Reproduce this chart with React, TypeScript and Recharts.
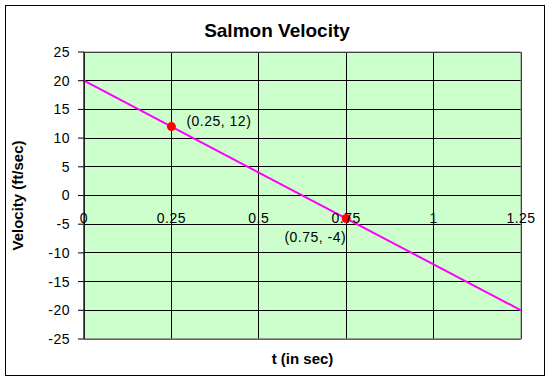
import React from 'react';
import {
  ComposedChart,
  Line,
  Scatter,
  XAxis,
  YAxis,
  CartesianGrid,
  ReferenceArea,
  ReferenceDot,
} from 'recharts';

const xTicks = [0, 0.25, 0.5, 0.75, 1, 1.25];
const yTicks = [-25, -20, -15, -10, -5, 0, 5, 10, 15, 20, 25];

const lineTimes = [0, 1.25];
const lineVelocities = [20, -20];

const pointTimes = [0.25, 0.75];
const pointVelocities = [12, -4];
const pointLabels = ['(0.25, 12)', '(0.75, -4)'];

const FONT = '"Liberation Sans", Arial, sans-serif';

const lineData = lineTimes.map((t, i) => ({ t, v: lineVelocities[i] }));
const pointData = pointTimes.map((t, i) => ({ t, v: pointVelocities[i], label: pointLabels[i], idx: i }));

function PointShape(props: any) {
  const { cx, cy, payload } = props;
  const first = payload.idx === 0;
  return (
    <g>
      <circle cx={cx} cy={cy} r={4.5} fill="#FF0000" />
      <text
        x={first ? cx + 15 : cx}
        y={first ? cy - 1 : cy + 24}
        textAnchor={first ? 'start' : 'end'}
        fontSize={14}
        letterSpacing={0.5}
        fontFamily={FONT}
        fill="#000"
      >
        {payload.label}
      </text>
    </g>
  );
}

// x tick labels sit on the zero line (drawn with ReferenceDot), so the axis itself shows none
const NoTick = () => <g />;

export default function App() {
  return (
    <div
      style={{
        position: 'absolute',
        left: 0,
        top: 0,
        width: 555,
        height: 381,
        background: '#fff',
        fontFamily: FONT,
      }}
    >
      <style>{'.recharts-cartesian-grid line, .recharts-reference-area rect { shape-rendering: crispEdges; }'}</style>
      <div
        style={{
          position: 'absolute',
          left: 5,
          top: 5,
          width: 540,
          height: 371,
          boxSizing: 'border-box',
          border: '1px solid #000',
        }}
      />
      <div
        style={{
          position: 'absolute',
          left: 0,
          top: 21,
          width: 554,
          textAlign: 'center',
          fontSize: 19,
          lineHeight: '19px',
          fontWeight: 'bold',
          color: '#000',
        }}
      >
        Salmon Velocity
      </div>
      <div style={{ position: 'absolute', left: 0, top: 0 }}>
        <ComposedChart width={555} height={381} margin={{ top: 52, right: 34, left: 0, bottom: 0 }}>
          <CartesianGrid stroke="#000" fill="#CCFFCC" fillOpacity={1} />
          <XAxis
            type="number"
            dataKey="t"
            domain={[0, 1.25]}
            ticks={xTicks}
            tick={NoTick}
            tickLine={false}
            axisLine={{ stroke: '#808080' }}
            height={42}
            label={{
              value: 't (in sec)',
              position: 'insideBottom',
              offset: 17,
              fontSize: 15,
              fontWeight: 'bold',
              fill: '#000',
              fontFamily: FONT,
            }}
          />
          <YAxis
            type="number"
            dataKey="v"
            domain={[-25, 25]}
            ticks={yTicks}
            width={84}
            tickSize={6}
            tickMargin={8}
            tickLine={{ stroke: '#000' }}
            axisLine={{ stroke: '#000' }}
            tick={{ fill: '#000', fontSize: 14, fontFamily: FONT, letterSpacing: 0.5 }}
            label={{
              value: 'Velocity (ft/sec)',
              angle: -90,
              position: 'insideLeft',
              offset: 18,
              style: { textAnchor: 'middle' },
              fontSize: 15,
              fontWeight: 'bold',
              fill: '#000',
              fontFamily: FONT,
            }}
          />
          <ReferenceArea x1={0} x2={1.25} y1={-25} y2={25} fill="none" stroke="#808080" />
          {xTicks.map((t) => (
            <ReferenceDot
              key={t}
              x={t}
              y={0}
              r={0}
              stroke="none"
              fill="none"
              label={{
                value: String(t),
                position: 'bottom',
                offset: 18,
                fontSize: 14,
                fill: '#000',
                fontFamily: FONT,
                letterSpacing: 0.5,
              }}
            />
          ))}
          <Line
            data={lineData}
            dataKey="v"
            type="linear"
            stroke="#FF00FF"
            strokeWidth={2}
            dot={false}
            activeDot={false}
            isAnimationActive={false}
          />
          <Scatter data={pointData} dataKey="v" shape={PointShape} isAnimationActive={false} />
        </ComposedChart>
      </div>
    </div>
  );
}
